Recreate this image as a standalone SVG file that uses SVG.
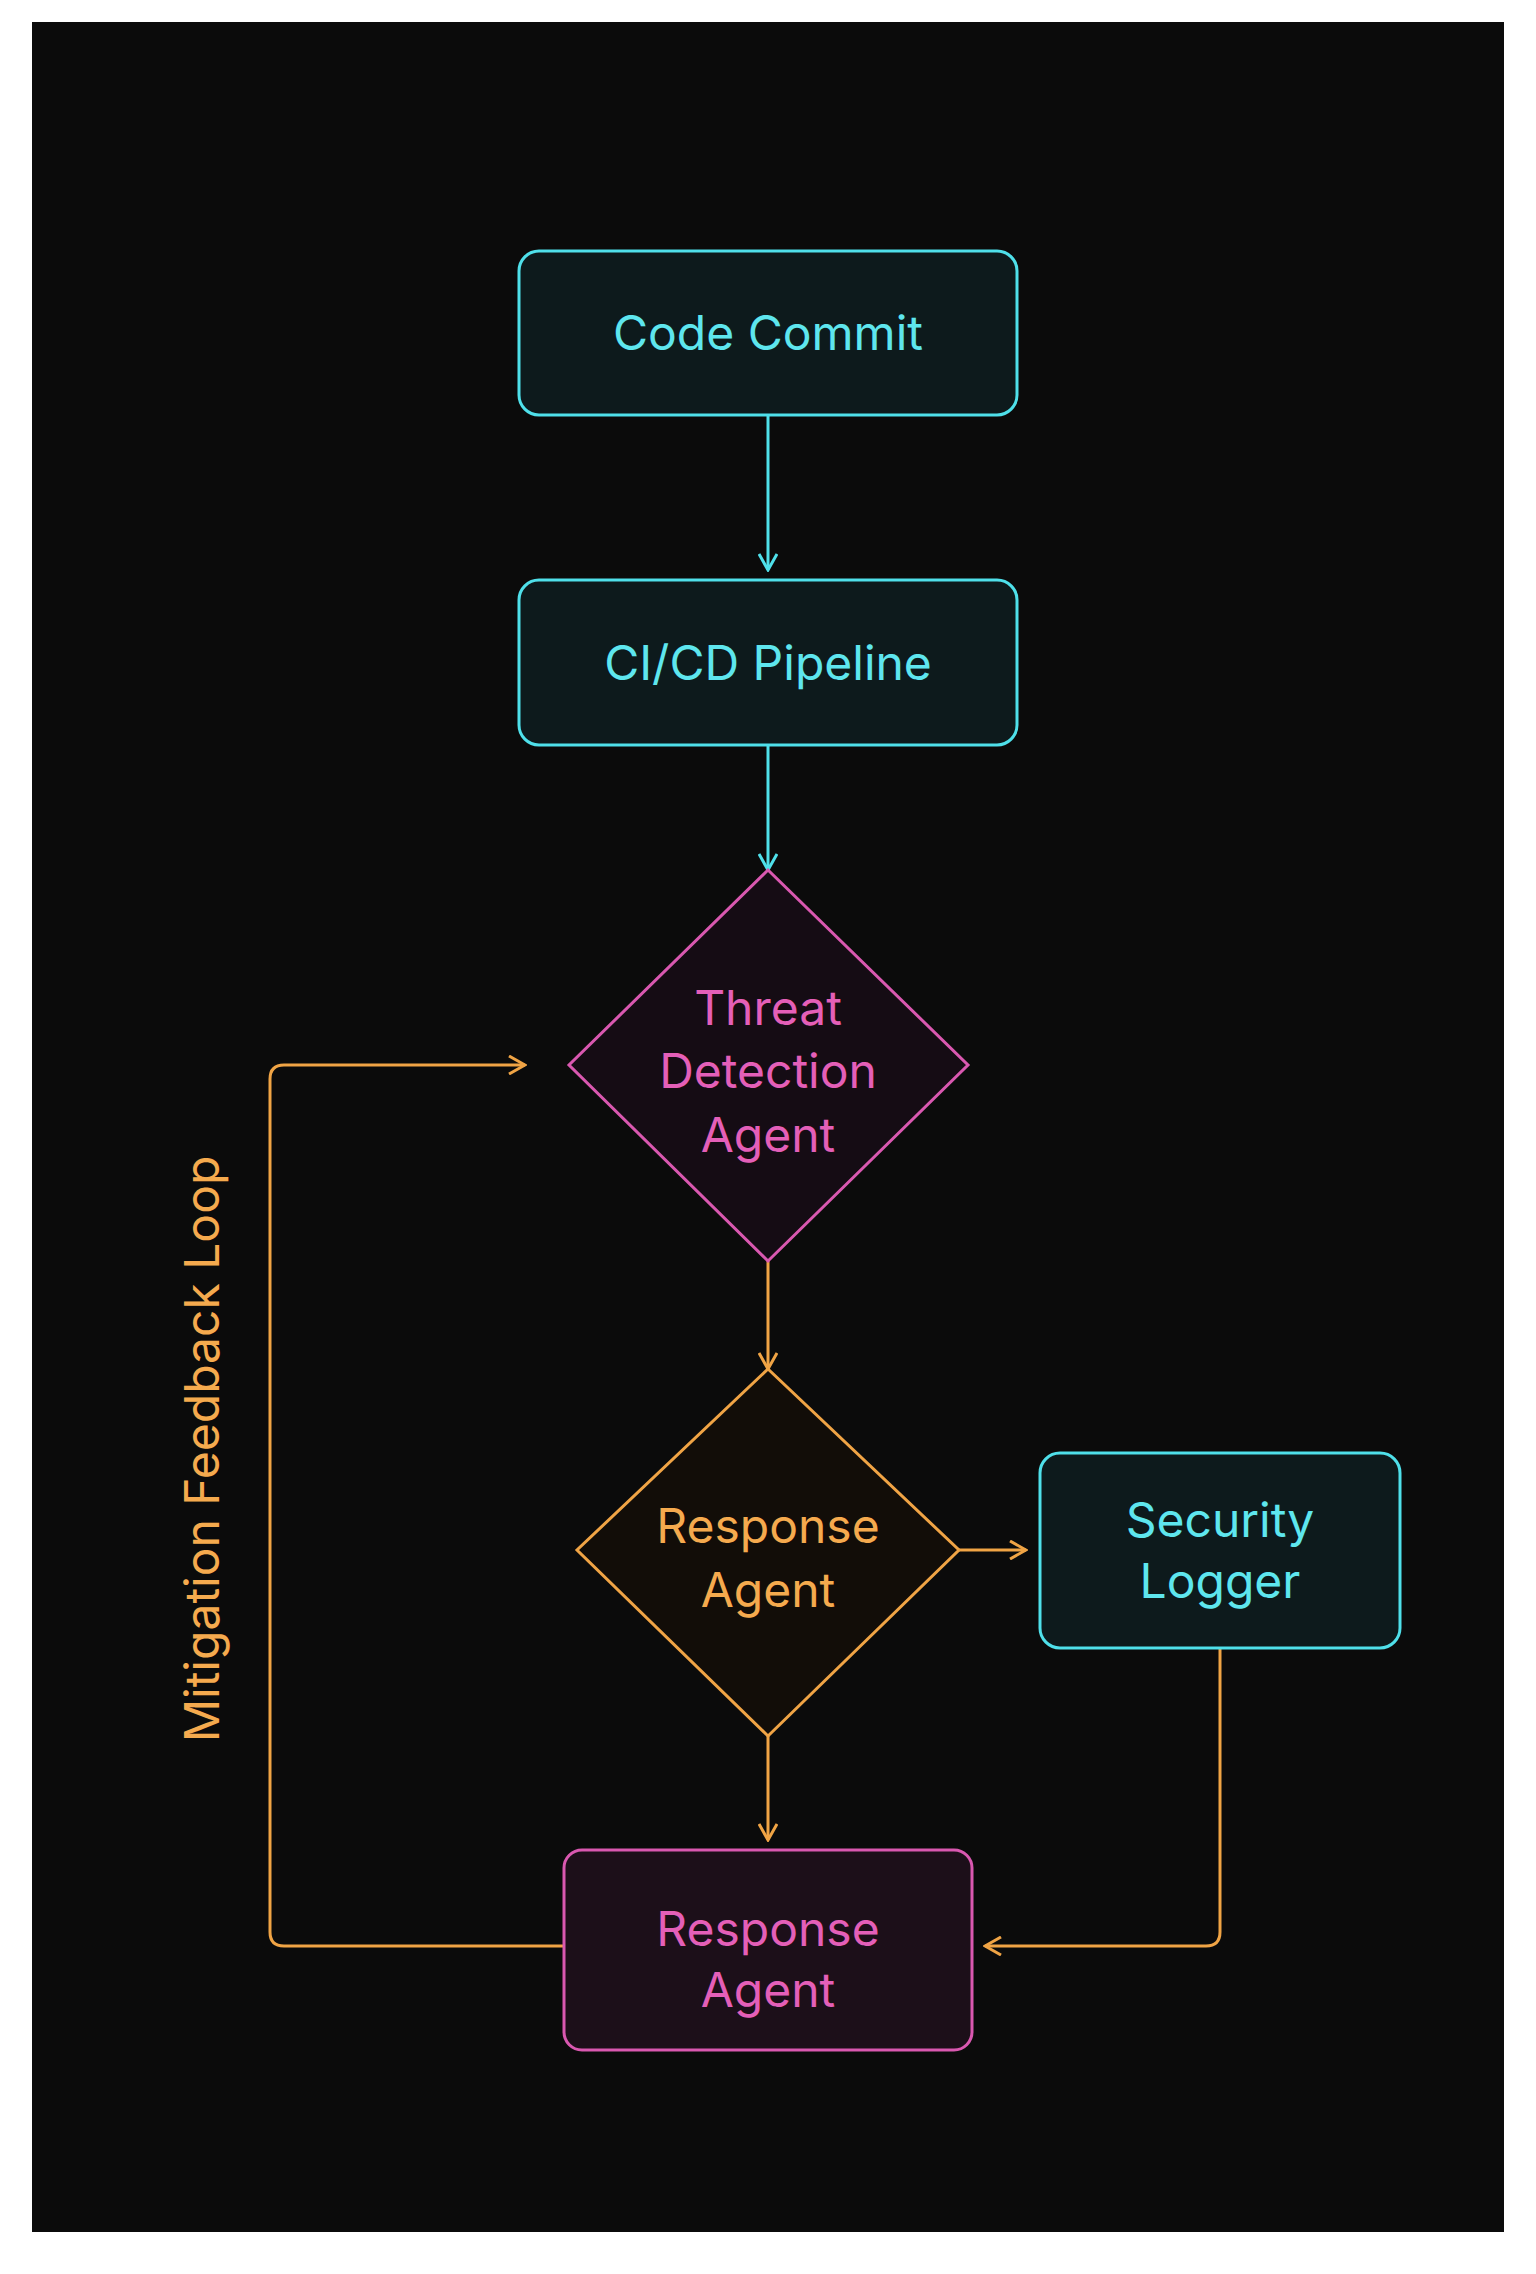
<svg xmlns="http://www.w3.org/2000/svg" width="1536" height="2274" viewBox="0 0 1536 2274">
<defs>
<style>
text{font-family:Inter,"Noto Sans","Liberation Sans",sans-serif;font-size:48px;text-anchor:middle}
.cy{fill:#5ee6ee}.pk{fill:#e45fb8}.or{fill:#f5aa4e}
.bc{fill:#0d1a1c;stroke:#4fe0ea;stroke-width:3}
.bp{fill:#1c0f19;stroke:#d958b0;stroke-width:3}
.do{fill:#120d08;stroke:#f0a445;stroke-width:3}
.lc{fill:none;stroke:#4fe0ea;stroke-width:3}
.lo{fill:none;stroke:#f0a445;stroke-width:3}
</style>
<marker id="ac" markerWidth="20" markerHeight="20" refX="18" refY="10" orient="auto" markerUnits="userSpaceOnUse"><path d="M2,1 L18,10 L2,19" fill="none" stroke="#4fe0ea" stroke-width="3"/></marker>
<marker id="ao" markerWidth="20" markerHeight="20" refX="18" refY="10" orient="auto" markerUnits="userSpaceOnUse"><path d="M2,1 L18,10 L2,19" fill="none" stroke="#f0a445" stroke-width="3"/></marker>
</defs>
<rect width="1536" height="2274" fill="#fff"/>
<rect x="32" y="22" width="1472" height="2210" fill="#0b0b0b"/>
<g id="connectors">
<line class="lc" x1="768" y1="415" x2="768" y2="570" marker-end="url(#ac)"/>
<line class="lc" x1="768" y1="745" x2="768" y2="870" marker-end="url(#ac)"/>
<line class="lo" x1="768" y1="1261" x2="768" y2="1369" marker-end="url(#ao)"/>
<line class="lo" x1="959" y1="1550" x2="1026" y2="1550" marker-end="url(#ao)"/>
<line class="lo" x1="768" y1="1736" x2="768" y2="1840" marker-end="url(#ao)"/>
<path class="lo" d="M1220,1648 V1932 Q1220,1946 1206,1946 H985" marker-end="url(#ao)"/>
<path class="lo" d="M564,1946 H284 Q270,1946 270,1932 V1079 Q270,1065 284,1065 H525" marker-end="url(#ao)"/>
</g>
<g id="code-commit"><rect class="bc" x="519" y="251" width="498" height="164" rx="20"/><text class="cy" x="768" y="350">Code Commit</text></g>
<g id="cicd"><rect class="bc" x="519" y="580" width="498" height="165" rx="20"/><text class="cy" x="768" y="680">CI/CD Pipeline</text></g>
<g id="threat"><polygon points="768,870 968,1065 768,1261 569,1065" fill="#150c14" stroke="#d958b0" stroke-width="3"/><text class="pk" x="768" y="1025">Threat</text><text class="pk" x="768" y="1088">Detection</text><text class="pk" x="768" y="1152">Agent</text></g>
<g id="response-diamond"><polygon class="do" points="768,1369 959,1550 768,1736 577,1550"/><text class="or" x="768" y="1543">Response</text><text class="or" x="768" y="1607">Agent</text></g>
<g id="logger"><rect class="bc" x="1040" y="1453" width="360" height="195" rx="20"/><text class="cy" x="1220" y="1537">Security</text><text class="cy" x="1220" y="1598">Logger</text></g>
<g id="response-box"><rect class="bp" x="564" y="1850" width="408" height="200" rx="18"/><text class="pk" x="768" y="1946">Response</text><text class="pk" x="768" y="2007">Agent</text></g>
<text class="or" transform="translate(219,1449) rotate(-90)" font-size="46">Mitigation Feedback Loop</text>
</svg>
